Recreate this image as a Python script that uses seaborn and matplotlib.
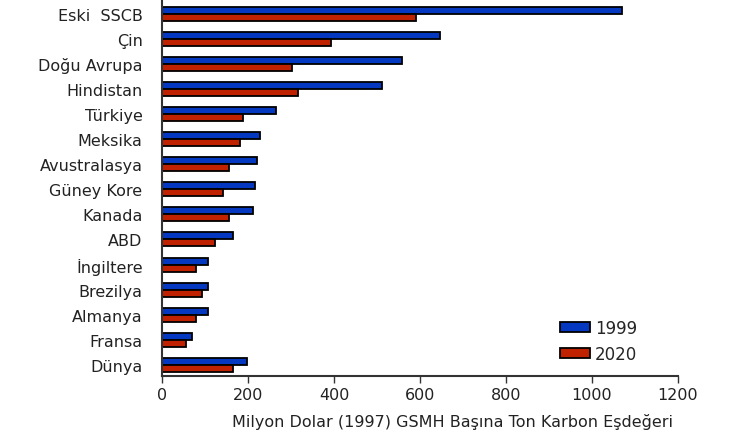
import numpy as np
import pandas as pd
import seaborn as sns
import matplotlib.pyplot as plt

# data
ulkeler = ['Eski  SSCB', 'Çin', 'Doğu Avrupa', 'Hindistan', 'Türkiye', 'Meksika',
           'Avustralasya', 'Güney Kore', 'Kanada', 'ABD', 'İngiltere', 'Brezilya',
           'Almanya', 'Fransa', 'Dünya']
deger_1999 = [1070, 646, 558, 512, 266, 229, 220, 216, 211, 165, 107, 107, 107, 69, 197]
deger_2020 = [590, 393, 302, 316, 188, 182, 156, 141, 156, 123, 78, 92, 78, 55, 165]
yillar = ['1999', '2020']
renkler = ['#0538C0', '#C02200']

df = pd.DataFrame({
    'ulke': ulkeler * 2,
    'deger': deger_1999 + deger_2020,
    'yil': [yillar[0]] * len(ulkeler) + [yillar[1]] * len(ulkeler),
})

sns.set_theme(style='white')
plt.rcParams['font.family'] = ['DejaVu Sans']
plt.rcParams['font.size'] = 11.5

fig = plt.figure(figsize=(7.55, 4.39), dpi=100)
ax = fig.add_axes([162 / 755, 1 - 377 / 439, 516 / 755, 376 / 439])

# grouped horizontal bars
sns.barplot(data=df, x='deger', y='ulke', hue='yil', order=ulkeler,
            palette=renkler, orient='h', width=0.56, edgecolor='black',
            linewidth=1.3, saturation=1, ax=ax)

ax.set_xlim(0, 1200)
ax.set_ylim(14.44, -0.54)
ax.set_xticks(np.arange(0, 1201, 200))
ax.tick_params(axis='x', bottom=True, length=5, width=1, color='#333333',
               labelsize=11.5, pad=3, labelcolor='#222222')
ax.tick_params(axis='y', left=False, labelsize=11.5, pad=8, labelcolor='#222222')
ax.set_xlabel('')
ax.set_ylabel('')

sns.despine(ax=ax)
for s in ['left', 'bottom']:
    ax.spines[s].set_color('#333333')
    ax.spines[s].set_linewidth(1.5)

fig.text(452 / 755, 1 - 422 / 439,
         'Milyon Dolar (1997) GSMH Başına Ton Karbon Eşdeğeri',
         ha='center', va='center', fontsize=11.5, color='#222222')

ax.legend(loc='upper left', bbox_to_anchor=(560 / 755, 1 - 320 / 439),
          bbox_transform=fig.transFigure, frameon=False, title=None,
          handlelength=1.8, handleheight=0.55, handletextpad=0.3,
          labelspacing=0.5, fontsize=12, borderaxespad=0, borderpad=0)

fig.savefig('out.png', dpi=100)
